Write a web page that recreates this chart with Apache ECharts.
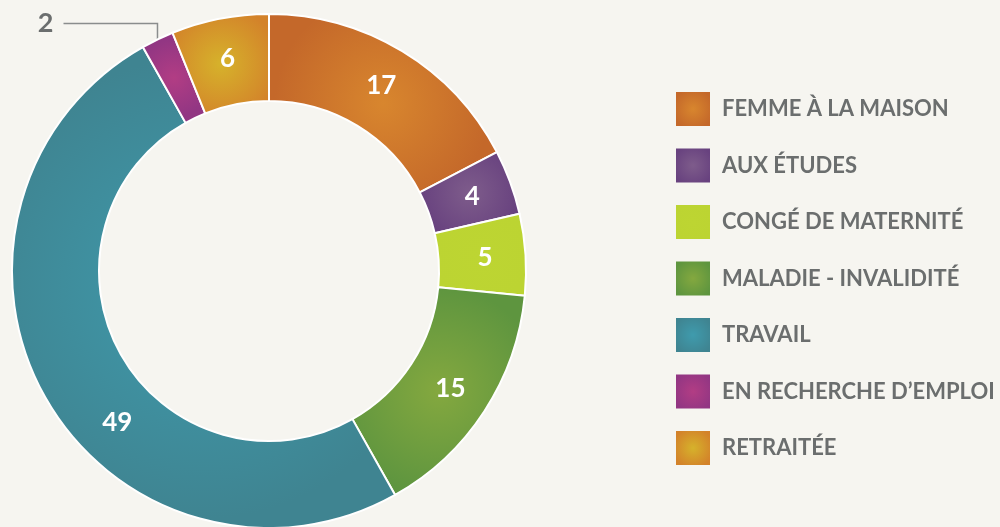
<!DOCTYPE html>
<html>
<head>
<meta charset="utf-8">
<script src="https://cdn.jsdelivr.net/npm/echarts@6/dist/echarts.min.js"></script>
<style>
  html, body { margin: 0; padding: 0; background: #f6f5f0; }
  #chart { width: 1000px; height: 527px; }
</style>
</head>
<body>
<div id="chart"></div>
<script>
// catégories et valeurs
var categories = ['FEMME À LA MAISON', 'AUX ÉTUDES', 'CONGÉ DE MATERNITÉ', 'MALADIE - INVALIDITÉ', 'TRAVAIL', 'EN RECHERCHE D\u2019EMPLOI', 'RETRAITÉE'];
var values = [17, 4, 5, 15, 49, 2, 6];
// couleur centre / bord de chaque part
var innerColors = ['#d8862e', '#7e5c8b', '#bdd532', '#84a83f', '#3f9bad', '#b23d84', '#d6b22b'];
var outerColors = ['#c4682a', '#68427f', '#bcd432', '#5e953f', '#3f8491', '#923683', '#d3822a'];

var textGray = '#6b6e6e';

function grad(i) {
    return {
        type: 'radial', x: 0.5, y: 0.5, r: 0.6,
        colorStops: [
            { offset: 0, color: innerColors[i] },
            { offset: 1, color: outerColors[i] }
        ]
    };
}

var data = [];
for (var i = 0; i < categories.length; i++) {
    var item = { name: categories[i], value: values[i], itemStyle: { color: grad(i) } };
    if (i === 5) {
        item.label = { position: 'outside', color: textGray, fontSize: 27 };
        item.labelLine = { show: true, length: 18, length2: 94, lineStyle: { color: '#8a8d8d', width: 1.5 } };
    }
    data.push(item);
}

var chart = echarts.init(document.getElementById('chart'));
var option = {
    backgroundColor: '#f6f5f0',
    animation: false,
    legend: {
        orient: 'vertical',
        left: 671,
        top: 87,
        itemWidth: 34,
        itemHeight: 34,
        itemGap: 22.5,
        icon: 'rect',
        selectedMode: false,
        itemStyle: { borderWidth: 0 },
        textStyle: {
            color: textGray,
            fontSize: 22,
            fontWeight: 'bold',
            fontFamily: 'Lato',
            padding: [0, 0, 0, 7]
        },
        data: categories
    },
    series: [
        {
            name: 'situation',
            type: 'pie',
            center: [269, 271],
            radius: [170, 257],
            startAngle: 90,
            clockwise: true,
            avoidLabelOverlap: false,
            itemStyle: { borderColor: '#ffffff', borderWidth: 2 },
            label: {
                show: true,
                position: 'inside',
                formatter: '{c}',
                color: '#ffffff',
                fontSize: 26,
                fontWeight: 'bold',
                fontFamily: 'Lato'
            },
            labelLine: { show: false },
            labelLayout: function (p) {
                if (p.dataIndex === 4) {
                    return { dx: 37, dy: 45 };
                }
                if (p.dataIndex === 5 && p.labelLinePoints) {
                    var p0 = p.labelLinePoints[0];
                    var y1 = p0[1] - 16;
                    var x2 = p0[0] - 94;
                    return {
                        x: x2 - 10, y: y1, align: 'right', verticalAlign: 'middle',
                        labelLinePoints: [[p0[0], p0[1] + 16], [p0[0], y1], [x2, y1]]
                    };
                }
                return {};
            },
            data: data
        }
    ]
};
chart.setOption(option);
</script>
</body>
</html>
